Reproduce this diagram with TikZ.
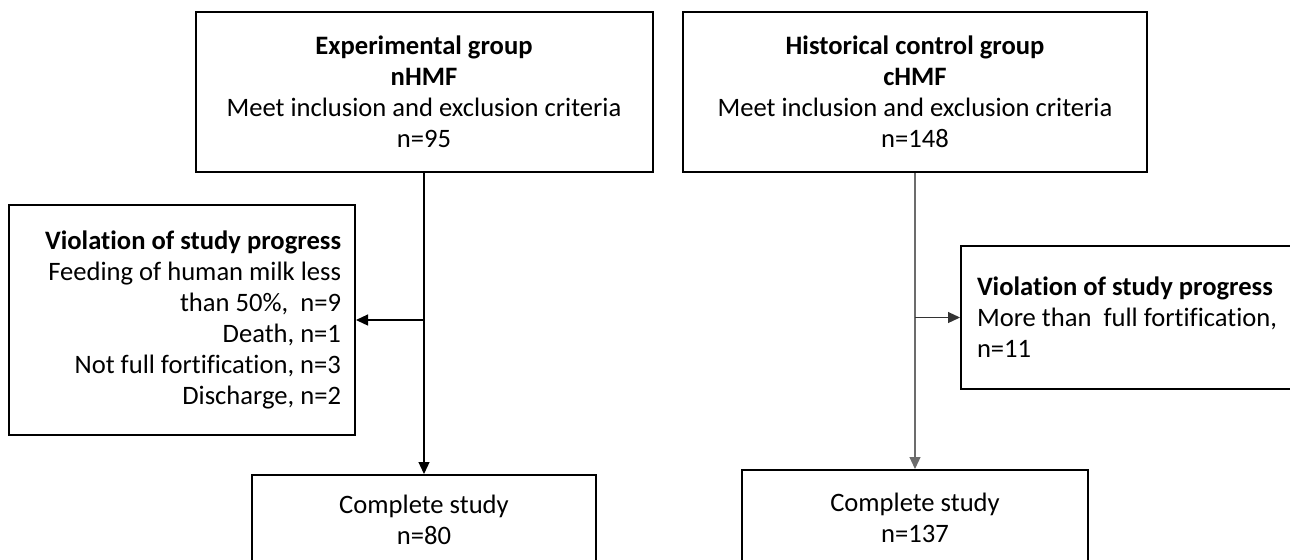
\documentclass[tikz,border=0pt]{standalone}
\usepackage{fontspec}
\setmainfont{Carlito}[Ligatures=CommonOff]
\usetikzlibrary{arrows.meta}
\begin{document}
\begin{tikzpicture}[x=0.5pt,y=-0.5pt,
  box/.style={draw=black,line width=1pt,inner sep=0pt,
    font={\fontsize{13.3}{15.5}\selectfont}},
  conn/.style={line width=0.6pt,-{Triangle[length=6pt,width=5.5pt]}},
  plain/.style={line width=0.6pt}]
\useasboundingbox (0,0) rectangle (1290,559);
\clip (0,0) rectangle (1290,559);
\fill[white] (0,0) rectangle (1290,559);

\node[box,minimum width=228.5pt,minimum height=80pt,align=center] (A) at (424,92)
  {\textbf{Experimental group}\\\textbf{nHMF}\\Meet inclusion and exclusion criteria\\n=95};
\node[box,minimum width=232pt,minimum height=80pt,align=center] (B) at (915,92)
  {\textbf{Historical control group}\\\textbf{cHMF}\\Meet inclusion and exclusion criteria\\n=148};
\node[box,minimum width=173pt,minimum height=115pt,text width=159pt,align=flush right] (C) at (182,320)
  {\textbf{Violation of study progress}\\Feeding of human milk less\\than 50\%,\ \ n=9\\Death, n=1\\Not full fortification, n=3\\Discharge, n=2};
\node[box,minimum width=189.5pt,minimum height=71.5pt,text width=173.5pt,align=flush left] (D) at (1150.5,317.5)
  {\textbf{Violation of study progress}\\More than\ \ full fortification,\\n=11};
\node[box,minimum width=172pt,minimum height=45pt,align=center] (E) at (424,520)
  {Complete study\\n=80};
\node[box,minimum width=173pt,minimum height=47.5pt,align=center] (F) at (915,517.5)
  {Complete study\\n=137};

\draw[conn,draw=black] (A.south) -- (E.north);
\draw[conn,draw=black] (A.south |- C.east) -- (C.east);
\draw[conn,draw=gray!85!black] (B.south) -- (F.north);
\draw[conn,draw=black!80] (B.south |- D.west) -- (D.west);
\end{tikzpicture}
\end{document}
